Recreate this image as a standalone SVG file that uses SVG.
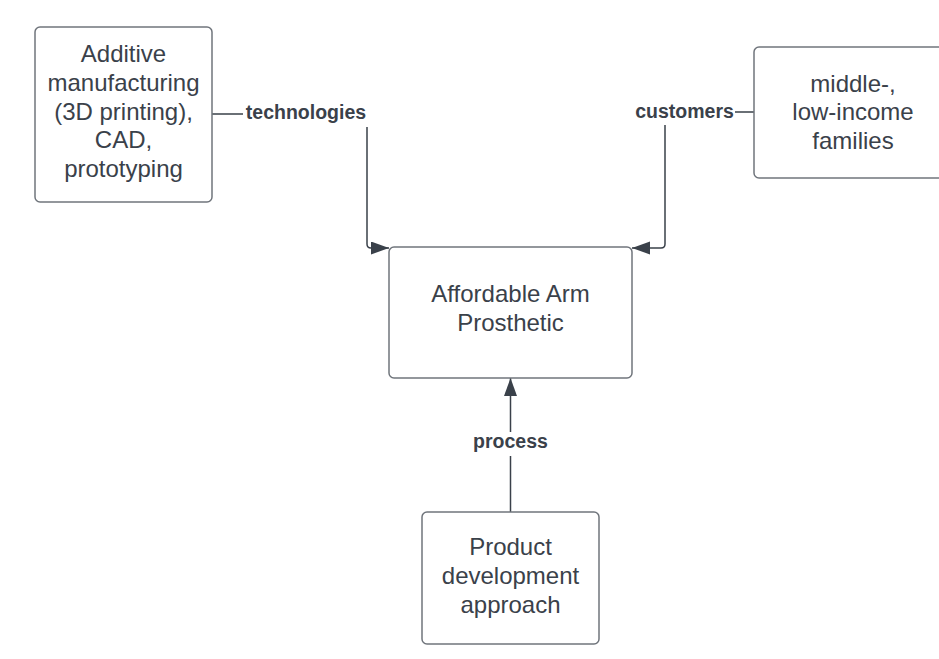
<svg xmlns="http://www.w3.org/2000/svg" width="939" height="659" viewBox="0 0 939 659">
<style>
.box{fill:#ffffff;stroke:#70757c;stroke-width:1.5}
.t{font-family:"Liberation Sans",Arial,sans-serif;font-size:24px;fill:#3a414a;text-anchor:middle}
.lbl{font-family:"Liberation Sans",Arial,sans-serif;font-size:19.5px;font-weight:bold;fill:#3a414a;text-anchor:middle}
.ln{fill:none;stroke:#3a414a;stroke-width:1.5}
.bg{fill:#ffffff}
</style>
<defs>
<marker id="arr" markerUnits="userSpaceOnUse" markerWidth="20" markerHeight="14" refX="18" refY="6.5" orient="auto">
<path d="M0,0 L18,6.5 L0,13 Z" fill="#3a414a"/>
</marker>
</defs>
<rect width="939" height="659" fill="#ffffff"/>
<g id="connectors">
<path class="ln" d="M212,114 H367 V244 Q367,248 371,248 H389" marker-end="url(#arr)"/>
<rect class="bg" x="243" y="100" width="126" height="27"/>
<text class="lbl" x="306" y="119">technologies</text>
<path class="ln" d="M754,112 H665 V244 Q665,248 661,248 H632" marker-end="url(#arr)"/>
<rect class="bg" x="633" y="98" width="102" height="27"/>
<text class="lbl" x="684.5" y="118">customers</text>
<path class="ln" d="M510.5,512 V378" marker-end="url(#arr)"/>
<rect class="bg" x="468" y="432" width="86" height="24"/>
<text class="lbl" x="510.5" y="448">process</text>
</g>
<g id="node-tech">
<rect class="box" x="35" y="27" width="177" height="175" rx="5"/>
<text class="t" x="123.5" y="62">Additive</text>
<text class="t" x="123.5" y="90.8">manufacturing</text>
<text class="t" x="123.5" y="119.6">(3D printing),</text>
<text class="t" x="123.5" y="148.4">CAD,</text>
<text class="t" x="123.5" y="177.2">prototyping</text>
</g>
<g id="node-customers">
<rect class="box" x="754" y="47" width="200" height="131" rx="5"/>
<text class="t" x="853" y="91.6">middle-,</text>
<text class="t" x="853" y="120.4">low-income</text>
<text class="t" x="853" y="149.2">families</text>
</g>
<g id="node-product">
<rect class="box" x="389" y="247" width="243" height="131" rx="5"/>
<text class="t" x="510.5" y="302">Affordable Arm</text>
<text class="t" x="510.5" y="331">Prosthetic</text>
</g>
<g id="node-process">
<rect class="box" x="422" y="512" width="177" height="132" rx="5"/>
<text class="t" x="510.5" y="555">Product</text>
<text class="t" x="510.5" y="583.8">development</text>
<text class="t" x="510.5" y="612.6">approach</text>
</g>
</svg>
